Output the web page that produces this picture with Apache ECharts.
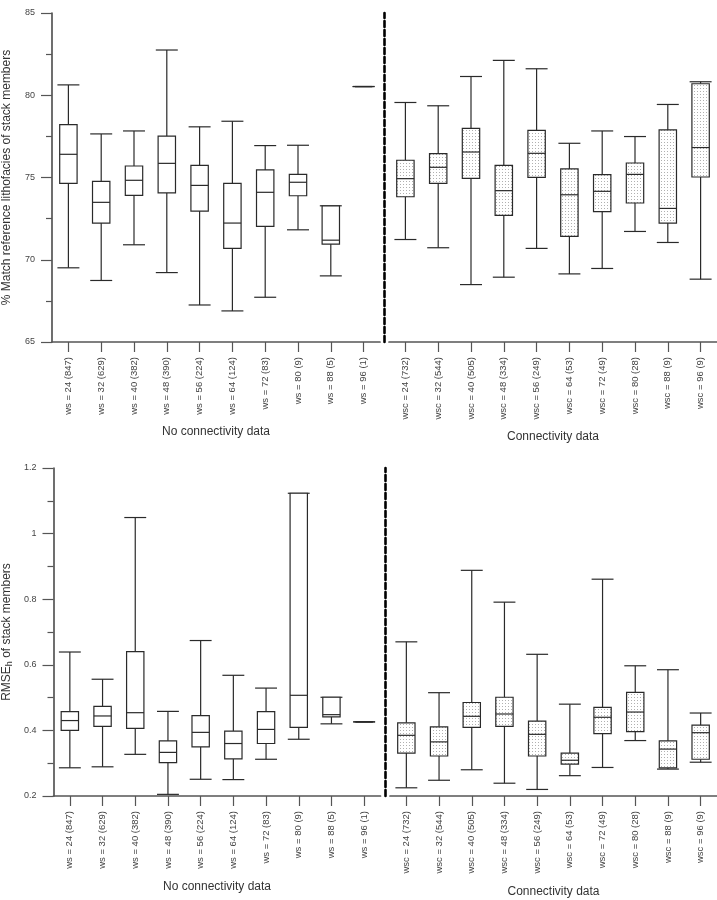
<!DOCTYPE html>
<html>
<head>
<meta charset="utf-8">
<script src="https://cdn.jsdelivr.net/npm/echarts@6/dist/echarts.min.js"></script>
<style>
html,body{margin:0;padding:0;background:#fff;}
#chart{width:717px;height:900px;}
</style>
</head>
<body>
<div id="chart"></div>
<script>
// ---- categories ----
var catsNoConn = ['ws = 24 (847)','ws = 32 (629)','ws = 40 (382)','ws = 48 (390)','ws = 56 (224)','ws = 64 (124)','ws = 72 (83)','ws = 80 (9)','ws = 88 (5)','ws = 96 (1)'];
var catsConn = ['wsc = 24 (732)','wsc = 32 (544)','wsc = 40 (505)','wsc = 48 (334)','wsc = 56 (249)','wsc = 64 (53)','wsc = 72 (49)','wsc = 80 (28)','wsc = 88 (9)','wsc = 96 (9)'];

// ---- % Match, no connectivity: [min, q1, median, q3, max] ----
var matchNoConn = [
  [69.51, 74.64, 76.41, 78.22, 80.63],
  [68.74, 72.23, 73.49, 74.77, 77.65],
  [70.91, 73.91, 74.83, 75.70, 77.83],
  [69.22, 74.06, 75.86, 77.51, 82.75],
  [67.25, 72.96, 74.52, 75.74, 78.08],
  [66.89, 70.69, 72.23, 74.64, 78.42],
  [67.72, 72.03, 74.10, 75.46, 76.94],
  [71.82, 73.89, 74.71, 75.19, 76.96],
  [69.02, 70.95, 71.19, 73.28, 73.28],
  [80.53, 80.53, 80.53, 80.53, 80.53]
];
// ---- % Match, connectivity ----
var matchConn = [
  [71.23, 73.83, 74.93, 76.05, 79.56],
  [70.73, 74.64, 75.62, 76.45, 79.36],
  [68.49, 74.95, 76.55, 77.99, 81.14],
  [68.94, 72.70, 74.20, 75.74, 82.12],
  [70.69, 75.01, 76.47, 77.87, 81.61],
  [69.14, 71.42, 73.95, 75.52, 77.08],
  [69.47, 72.92, 74.16, 75.17, 77.83],
  [71.72, 73.45, 75.19, 75.88, 77.49],
  [71.05, 72.23, 73.12, 77.89, 79.44],
  [68.82, 75.03, 76.82, 80.70, 80.82]
];
// ---- RMSE_h, no connectivity ----
var rmseNoConn = [
  [0.286, 0.400, 0.430, 0.457, 0.639],
  [0.289, 0.412, 0.444, 0.473, 0.556],
  [0.327, 0.406, 0.454, 0.640, 1.049],
  [0.205, 0.302, 0.333, 0.368, 0.458],
  [0.251, 0.350, 0.394, 0.445, 0.674],
  [0.250, 0.313, 0.360, 0.398, 0.568],
  [0.312, 0.360, 0.403, 0.457, 0.529],
  [0.373, 0.409, 0.507, 1.123, 1.123],
  [0.420, 0.441, 0.448, 0.501, 0.501],
  [0.426, 0.426, 0.426, 0.426, 0.426]
];
// ---- RMSE_h, connectivity ----
var rmseConn = [
  [0.225, 0.331, 0.385, 0.423, 0.670],
  [0.248, 0.322, 0.365, 0.411, 0.515],
  [0.280, 0.409, 0.443, 0.485, 0.888],
  [0.239, 0.412, 0.450, 0.501, 0.791],
  [0.220, 0.322, 0.388, 0.428, 0.632],
  [0.262, 0.297, 0.309, 0.331, 0.480],
  [0.287, 0.390, 0.440, 0.470, 0.861],
  [0.369, 0.396, 0.456, 0.516, 0.597],
  [0.282, 0.286, 0.343, 0.368, 0.585],
  [0.303, 0.312, 0.393, 0.416, 0.453]
];

// dotted pattern for "connectivity" boxes
var pat = document.createElement('canvas');
pat.width = 3; pat.height = 3;
var pctx = pat.getContext('2d');
pctx.fillStyle = '#ffffff'; pctx.fillRect(0,0,3,3);
pctx.fillStyle = '#b0b0b0'; pctx.fillRect(1,1,1,1);

var LINE = '#2a2a2a';
var AXIS = '#555555';

function makeRender(dotted) {
  return function (params, api) {
    var x = api.value(0);
    var pMin = api.coord([x, api.value(1)]);
    var pQ1 = api.coord([x, api.value(2)]);
    var pMed = api.coord([x, api.value(3)]);
    var pQ3 = api.coord([x, api.value(4)]);
    var pMax = api.coord([x, api.value(5)]);
    var band = api.size([1, 0])[0];
    var bw = band * 0.53, cw = band * 0.67;
    var cx = pMed[0];
    var ls = {stroke: LINE, lineWidth: 1.2, fill: null};
    var fill = dotted ? {image: pat, repeat: 'repeat'} : '#ffffff';
    return {
      type: 'group',
      children: [
        {type: 'line', shape: {x1: cx, y1: pMax[1], x2: cx, y2: pQ3[1]}, style: ls},
        {type: 'line', shape: {x1: cx, y1: pQ1[1], x2: cx, y2: pMin[1]}, style: ls},
        {type: 'line', shape: {x1: cx - cw/2, y1: pMax[1], x2: cx + cw/2, y2: pMax[1]}, style: ls},
        {type: 'line', shape: {x1: cx - cw/2, y1: pMin[1], x2: cx + cw/2, y2: pMin[1]}, style: ls},
        {type: 'rect', shape: {x: cx - bw/2, y: pQ3[1], width: bw, height: pQ1[1] - pQ3[1]},
          style: {stroke: LINE, lineWidth: 1.2, fill: fill}},
        {type: 'line', shape: {x1: cx - bw/2, y1: pMed[1], x2: cx + bw/2, y2: pMed[1]}, style: ls}
      ]
    };
  };
}

function toData(arr) {
  return arr.map(function (r, i) { return [i, r[0], r[1], r[2], r[3], r[4]]; });
}

var FONT = 'Liberation Sans, Arial, sans-serif';

function xAxis(gi, cats, name, gap) {
  return {
    type: 'category', gridIndex: gi, data: cats,
    boundaryGap: true,
    axisLine: {show: true, onZero: false, lineStyle: {color: AXIS, width: 1.7}},
    axisTick: {show: true, alignWithLabel: true, length: 10, lineStyle: {color: AXIS, width: 1.2}},
    axisLabel: {rotate: 90, interval: 0, margin: 15, fontSize: 9.5, color: '#444', fontFamily: FONT},
    name: name, nameLocation: 'middle', nameGap: gap,
    nameTextStyle: {fontSize: 12, color: '#333', fontFamily: FONT},
    splitLine: {show: false}
  };
}

function yAxisMain(gi, min, max, interval, name) {
  return {
    type: 'value', gridIndex: gi, min: min, max: max, interval: interval,
    axisLine: {show: true, lineStyle: {color: AXIS, width: 1.7}},
    axisTick: {show: true, length: 11, lineStyle: {color: AXIS, width: 1.2}},
    minorTick: {show: true, splitNumber: 2, length: 6, lineStyle: {color: AXIS, width: 1.2}},
    axisLabel: {fontSize: 9, color: '#444', margin: 17, fontFamily: FONT},
    splitLine: {show: false}, minorSplitLine: {show: false},
    name: name, nameLocation: 'middle', nameGap: 39, nameRotate: 90,
    nameTextStyle: {fontSize: 12, color: '#333', fontFamily: FONT,
      rich: {sub: {fontSize: 9, verticalAlign: 'bottom', padding: [6,0,0,0], color: '#333', fontFamily: FONT},
             n: {fontSize: 12, color: '#333', fontFamily: FONT}}}
  };
}

function yAxisDash(gi, min, max) {
  return {
    type: 'value', gridIndex: gi, min: min, max: max, offset: 5,
    axisLine: {show: true, lineStyle: {color: '#000', width: 2.6, type: [6, 3]}},
    axisTick: {show: false}, axisLabel: {show: false}, splitLine: {show: false}
  };
}

var option = {
  animation: false,
  backgroundColor: '#fff',
  grid: [
    {left: 50, top: 13, width: 330, height: 329},
    {left: 389, top: 13, width: 329, height: 329},
    {left: 51.5, top: 468, width: 329, height: 328},
    {left: 390, top: 468, width: 328, height: 328}
  ],
  xAxis: [
    xAxis(0, catsNoConn, 'No connectivity data', 84),
    xAxis(1, catsConn, 'Connectivity data', 89),
    xAxis(2, catsNoConn, 'No connectivity data', 85),
    xAxis(3, catsConn, 'Connectivity data', 90)
  ],
  yAxis: [
    yAxisMain(0, 65, 85, 5, '% Match reference lithofacies of stack members'),
    yAxisDash(1, 65, 85),
    yAxisMain(2, 0.2, 1.2, 0.2, '{n|RMSE}{sub|h}{n| of stack members}'),
    yAxisDash(3, 0.2, 1.2)
  ],
  series: [
    {type: 'custom', xAxisIndex: 0, yAxisIndex: 0, renderItem: makeRender(false), data: toData(matchNoConn), encode: {x: 0, y: [1,2,3,4,5]}},
    {type: 'custom', xAxisIndex: 1, yAxisIndex: 1, renderItem: makeRender(true), data: toData(matchConn), encode: {x: 0, y: [1,2,3,4,5]}},
    {type: 'custom', xAxisIndex: 2, yAxisIndex: 2, renderItem: makeRender(false), data: toData(rmseNoConn), encode: {x: 0, y: [1,2,3,4,5]}},
    {type: 'custom', xAxisIndex: 3, yAxisIndex: 3, renderItem: makeRender(true), data: toData(rmseConn), encode: {x: 0, y: [1,2,3,4,5]}}
  ]
};

var chart = echarts.init(document.getElementById('chart'), null, {renderer: 'canvas'});
chart.setOption(option);
</script>
</body>
</html>
